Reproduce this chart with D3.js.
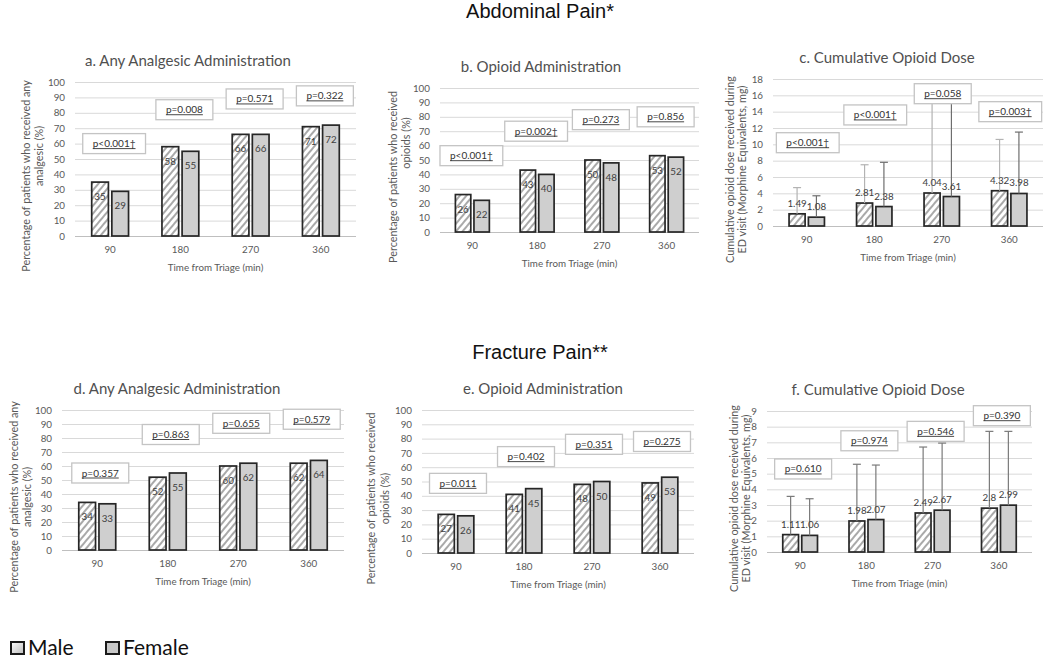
<!DOCTYPE html>
<html>
<head>
<meta charset="utf-8">
<script src="https://cdn.jsdelivr.net/npm/d3@7"></script>
<style>
  body { margin: 0; background: #fff; }
  svg { display: block; }
  text { font-family: Lato, "Open Sans", sans-serif; }
</style>
</head>
<body>
<svg width="1050" height="663"></svg>
<script>
const svg = d3.select("svg");

// ---- data ----
const categories = ["90", "180", "270", "360"];
const series = ["Male", "Female"];

// Abdominal pain
const abdAnyMale = [35, 58, 66, 71];
const abdAnyFemale = [29, 55, 66, 72];
const abdAnyP = ["p<0.001†", "p=0.008", "p=0.571", "p=0.322"];
const abdAnyPAt = [60, 82, 89, 91];

const abdOpMale = [26, 43, 50, 53];
const abdOpFemale = [22, 40, 48, 52];
const abdOpP = ["p<0.001†", "p=0.002†", "p=0.273", "p=0.856"];
const abdOpPAt = [53, 70, 78, 80];

const abdDoseMale = [1.49, 2.81, 4.04, 4.32];
const abdDoseFemale = [1.08, 2.38, 3.61, 3.98];
const abdDoseMaleErr = [4.7, 7.5, 16, 10.6];
const abdDoseFemaleErr = [3.7, 7.8, 16, 11.5];
const abdDoseP = ["p<0.001†", "p<0.001†", "p=0.058", "p=0.003†"];
const abdDosePAt = [10.2, 13.6, 16.2, 14.0];

// Fracture pain
const frAnyMale = [34, 52, 60, 62];
const frAnyFemale = [33, 55, 62, 64];
const frAnyP = ["p=0.357", "p=0.863", "p=0.655", "p=0.579"];
const frAnyPAt = [55, 82.5, 90.5, 93.4];

const frOpMale = [27, 41, 48, 49];
const frOpFemale = [26, 45, 50, 53];
const frOpP = ["p=0.011", "p=0.402", "p=0.351", "p=0.275"];
const frOpPAt = [48.7, 67.4, 76, 78];

const frDoseMale = [1.11, 1.98, 2.49, 2.8];
const frDoseFemale = [1.06, 2.07, 2.67, 2.99];
const frDoseMaleErr = [3.55, 5.6, 6.7, 7.7];
const frDoseFemaleErr = [3.4, 5.55, 6.95, 7.7];
const frDoseP = ["p=0.610", "p=0.974", "p=0.546", "p=0.390"];
const frDosePAt = [5.3, 7.1, 7.7, 8.7];

const sectionTitles = ["Abdominal Pain*", "Fracture Pain**"];

const yLabAny = ["Percentage of patients who received any", "analgesic (%)"];
const yLabOp = ["Percentage of patients who received", "opioids (%)"];
const yLabDose = ["Cumulative opioid dose received during", "ED visit (Morphine Equivalents, mg)"];

const panels = [
  { title: "a. Any Analgesic Administration", yLab: yLabAny, male: abdAnyMale, female: abdAnyFemale,
    p: abdAnyP, pAt: abdAnyPAt, max: 100, step: 10, left: 75, right: 356, top: 82, bottom: 236,
    titleX: 188, lab1X: 27, lab2X: 40, lab2Dy: -20, inside: true, pDx: 4 },
  { title: "b. Opioid Administration", yLab: yLabOp, male: abdOpMale, female: abdOpFemale,
    p: abdOpP, pAt: abdOpPAt, max: 100, step: 10, left: 440, right: 699, top: 88, bottom: 232,
    titleX: 541, lab1X: 394, lab2X: 407, lab2Dy: -34, inside: true, pDx: -1 },
  { title: "c. Cumulative Opioid Dose", yLab: yLabDose, male: abdDoseMale, female: abdDoseFemale,
    errM: abdDoseMaleErr, errF: abdDoseFemaleErr, errColM: "#b3b3b3", errColF: "#6e6e6e",
    p: abdDoseP, pAt: abdDosePAt, max: 18, step: 2, left: 773, right: 1043, top: 79, bottom: 226,
    titleX: 887, lab1X: 731, lab2X: 743, lab2Dy: 0, inside: false, pDx: 1, fmt: d3.format(".2f") },
  { title: "d. Any Analgesic Administration", yLab: yLabAny, male: frAnyMale, female: frAnyFemale,
    p: frAnyP, pAt: frAnyPAt, max: 100, step: 10, left: 62, right: 344, top: 410, bottom: 550,
    titleX: 177, lab1X: 15, lab2X: 28, lab2Dy: 0, inside: true, pDx: 3 },
  { title: "e. Opioid Administration", yLab: yLabOp, male: frOpMale, female: frOpFemale,
    p: frOpP, pAt: frOpPAt, max: 100, step: 10, left: 422, right: 694, top: 410, bottom: 553,
    titleX: 543, lab1X: 372, lab2X: 386, lab2Dy: 0, inside: true, pDx: 2 },
  { title: "f. Cumulative Opioid Dose", yLab: yLabDose, male: frDoseMale, female: frDoseFemale,
    errM: frDoseMaleErr, errF: frDoseFemaleErr, errColM: "#7a7a7a", errColF: "#7a7a7a",
    p: frDoseP, pAt: frDosePAt, max: 9, step: 1, left: 767, right: 1032, top: 411, bottom: 552,
    titleX: 878, lab1X: 735, lab2X: 747, lab2Dy: 0, inside: false, pDx: 3, fmt: d => String(d) }
];

// ---- defs ----
const defs = svg.append("defs");
const hatch = defs.append("pattern")
  .attr("id", "hatch")
  .attr("patternUnits", "userSpaceOnUse")
  .attr("width", 5)
  .attr("height", 5)
  .attr("patternTransform", "rotate(40)");
hatch.append("rect").attr("width", 5).attr("height", 5).attr("fill", "#fff");
hatch.append("line")
  .attr("x1", 1).attr("y1", 0).attr("x2", 1).attr("y2", 5)
  .attr("stroke", "#8c8c8c").attr("stroke-width", 1.5);

const legGrad = defs.append("linearGradient").attr("id", "legGrad")
  .attr("x1", 0).attr("y1", 0).attr("x2", 1).attr("y2", 1);
legGrad.append("stop").attr("offset", "0%").attr("stop-color", "#fff");
legGrad.append("stop").attr("offset", "100%").attr("stop-color", "#bbb");

// section titles
svg.selectAll(".section")
  .data(sectionTitles)
  .join("text")
  .attr("class", "section")
  .attr("x", 540)
  .attr("y", (d, i) => i === 0 ? 18 : 359)
  .attr("text-anchor", "middle")
  .style("font-family", "'Liberation Sans', Arial, sans-serif")
  .style("font-size", "20px")
  .attr("fill", "#111")
  .text(d => d);

panels.forEach(drawPanel);

function drawPanel(cfg) {
  const g = svg.append("g");

  const x0 = d3.scaleBand().domain(categories).range([cfg.left, cfg.right]);
  const x1 = d3.scaleBand().domain(series).range([0, x0.bandwidth()])
    .paddingInner(0.17).paddingOuter(0.83);
  const y = d3.scaleLinear().domain([0, cfg.max]).range([cfg.bottom, cfg.top]);
  const fmt = cfg.fmt || (d => String(d));

  // gridlines + y ticks
  const yAxis = d3.axisLeft(y)
    .tickValues(d3.range(0, cfg.max + cfg.step / 2, cfg.step))
    .tickSize(-(cfg.right - cfg.left))
    .tickPadding(10);
  const ya = g.append("g").attr("transform", `translate(${cfg.left},0)`).call(yAxis);
  ya.select(".domain").remove();
  ya.selectAll("line").attr("stroke", d => d === 0 ? "#bfbfbf" : "#d9d9d9");
  ya.selectAll("text").attr("fill", "#595959").style("font-size", "9.8px");

  // x axis
  const xAxis = d3.axisBottom(x0).tickSize(0).tickPadding(10);
  const xa = g.append("g").attr("transform", `translate(0,${cfg.bottom})`).call(xAxis);
  xa.select(".domain").remove();
  xa.selectAll("text").attr("fill", "#595959").style("font-size", "9.8px");

  const rows = categories.map((c, i) => ({
    cat: c,
    vals: [
      { s: "Male", v: cfg.male[i], e: cfg.errM ? cfg.errM[i] : null },
      { s: "Female", v: cfg.female[i], e: cfg.errF ? cfg.errF[i] : null }
    ]
  }));

  const grp = g.selectAll(".cat")
    .data(rows)
    .join("g")
    .attr("transform", d => `translate(${x0(d.cat)},0)`);

  grp.selectAll("rect")
    .data(d => d.vals)
    .join("rect")
    .attr("x", d => x1(d.s))
    .attr("y", d => y(d.v))
    .attr("width", x1.bandwidth())
    .attr("height", d => y(0) - y(d.v))
    .attr("fill", d => d.s === "Male" ? "url(#hatch)" : "#cfcfcf")
    .attr("stroke", "#262626")
    .attr("stroke-width", 1.7);

  // error bars (upper only)
  if (cfg.errM) {
    const eb = grp.selectAll(".err")
      .data(d => d.vals)
      .join("g")
      .attr("class", "err")
      .attr("stroke", d => d.s === "Male" ? cfg.errColM : cfg.errColF)
      .attr("stroke-width", 1.2);
    eb.append("line")
      .attr("x1", d => x1(d.s) + x1.bandwidth() / 2)
      .attr("x2", d => x1(d.s) + x1.bandwidth() / 2)
      .attr("y1", d => y(d.v))
      .attr("y2", d => y(d.e));
    eb.append("line")
      .attr("x1", d => x1(d.s) + x1.bandwidth() / 2 - 4)
      .attr("x2", d => x1(d.s) + x1.bandwidth() / 2 + 4)
      .attr("y1", d => y(d.e))
      .attr("y2", d => y(d.e));
  }

  // data labels
  grp.selectAll(".lbl")
    .data(d => d.vals)
    .join("text")
    .attr("class", "lbl")
    .attr("x", d => x1(d.s) + x1.bandwidth() / 2)
    .attr("y", d => cfg.inside ? y(d.v) + 18 : y(d.v) - 7)
    .attr("text-anchor", "middle")
    .attr("fill", "#404040")
    .style("font-size", "9.8px")
    .text(d => fmt(d.v));

  // p-value boxes
  const pb = g.selectAll(".pbox")
    .data(categories.map((c, i) => ({ cat: c, t: cfg.p[i], at: cfg.pAt[i] })))
    .join("g")
    .attr("class", "pbox")
    .attr("transform", d => `translate(${x0(d.cat) + x0.bandwidth() / 2 + cfg.pDx},${y(d.at)})`);
  pb.append("rect").attr("class", "bx");
  pb.append("text")
    .attr("text-anchor", "middle")
    .attr("dy", "0.35em")
    .attr("fill", "#333")
    .style("font-size", "10px")
    .text(d => d.t);
  pb.each(function() {
    const sel = d3.select(this);
    const w = sel.select("text").node().getComputedTextLength();
    sel.select("rect")
      .attr("x", -w / 2 - 10).attr("y", -10)
      .attr("width", w + 20).attr("height", 20)
      .attr("fill", "#fff").attr("stroke", "#c4c4c4").attr("stroke-width", 1.3);
    sel.append("line")
      .attr("x1", -w / 2).attr("x2", w / 2)
      .attr("y1", 5).attr("y2", 5)
      .attr("stroke", "#333").attr("stroke-width", 0.9);
  });

  // titles
  g.append("text")
    .attr("x", cfg.titleX)
    .attr("y", cfg.top - 16)
    .attr("text-anchor", "middle")
    .attr("fill", "#505050")
    .style("font-size", "15px")
    .text(cfg.title);

  g.append("text")
    .attr("x", (cfg.left + cfg.right) / 2)
    .attr("y", cfg.bottom + 35)
    .attr("text-anchor", "middle")
    .attr("fill", "#595959")
    .style("font-size", "9.8px")
    .text("Time from Triage (min)");

  const midY = (cfg.top + cfg.bottom + 34) / 2;
  [cfg.lab1X, cfg.lab2X].forEach((lx, i) => {
    g.append("text")
      .attr("transform", `translate(${lx + 3},${midY + (i === 1 ? cfg.lab2Dy : 0)}) rotate(-90)`)
      .attr("text-anchor", "middle")
      .attr("fill", "#595959")
      .style("font-size", "10.8px")
      .text(cfg.yLab[i]);
  });
}

// legend
const legend = svg.append("g").attr("transform", "translate(11,642)");
const legItems = legend.selectAll("g")
  .data(series)
  .join("g")
  .attr("transform", (d, i) => `translate(${i * 95},0)`);
legItems.append("rect")
  .attr("width", 13).attr("height", 12)
  .attr("fill", d => d === "Male" ? "url(#legGrad)" : "#c8c8c8")
  .attr("stroke", "#1a1a1a")
  .attr("stroke-width", 2);
legItems.append("text")
  .attr("x", 17)
  .attr("y", 13)
  .attr("fill", "#111")
  .style("font-size", "21px")
  .text(d => d);
</script>
</body>
</html>
